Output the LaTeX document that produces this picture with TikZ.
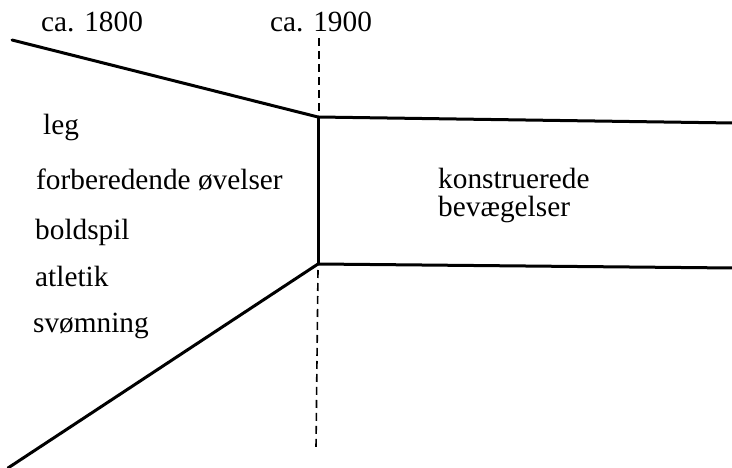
\documentclass[tikz,border=0pt]{standalone}
\usepackage{fontspec}
\setmainfont{Liberation Serif}
\begin{document}
\begin{tikzpicture}[x=1pt,y=-1pt,
  lbl/.style={anchor=base west,inner sep=0pt,font=\fontsize{29.3}{32}\selectfont},
  thick line/.style={line width=3pt,line cap=round,line join=round},
  dash line/.style={line width=1.6pt,dash pattern=on 8pt off 5pt}]
\useasboundingbox (0,0) rectangle (732,468);
\coordinate (tl) at (12,40);
\coordinate (tc) at (318,117);
\coordinate (tr) at (733,123);
\coordinate (bc) at (318,264);
\coordinate (br) at (733,268);
\coordinate (bl) at (8,468);
\coordinate (d1) at (319,38);
\coordinate (d2) at (319,112);
\coordinate (d3) at (318,270);
\coordinate (d4) at (316,448);
\draw[thick line] (tl) -- (tc) -- (tr);
\draw[thick line] (tc) -- (bc);
\draw[thick line] (bl) -- (bc) -- (br);
\draw[dash line] (d1) -- (d2);
\draw[dash line] (d3) -- (d4);
\node[lbl] (c18) at (41,32) {ca. 1800};
\node[lbl] (c19) at (270,32) {ca. 1900};
\node[lbl] (leg) at (43,135) {leg};
\node[lbl] (forb) at (36,190) {forberedende øvelser};
\node[lbl] (bold) at (35,240) {boldspil};
\node[lbl] (atl) at (35,287) {atletik};
\node[lbl] (svo) at (33,332) {svømning};
\node[lbl] (kon) at (438,189) {konstruerede};
\node[lbl] (bev) at (438,217) {bevægelser};
\end{tikzpicture}
\end{document}
